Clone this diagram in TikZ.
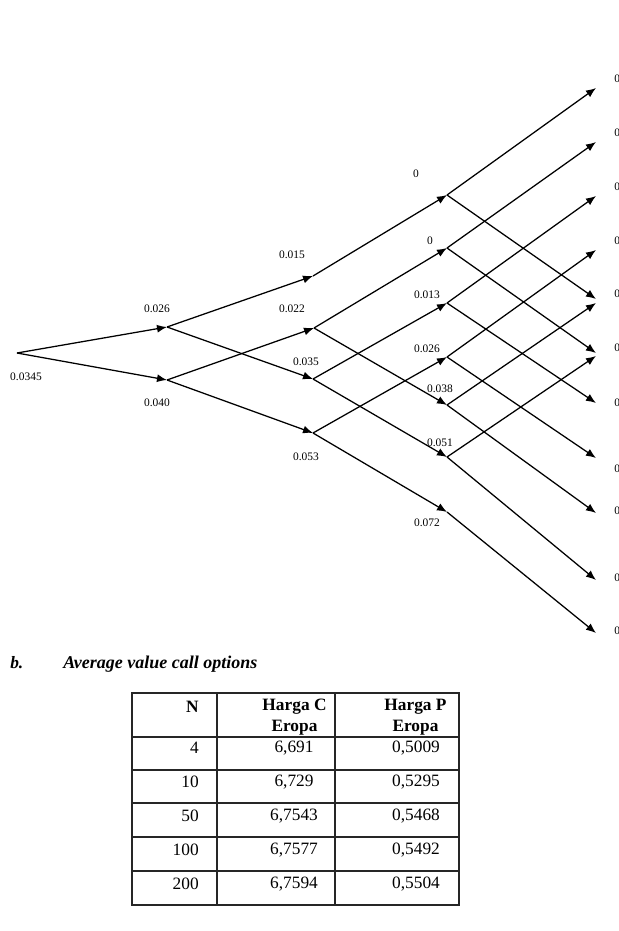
\documentclass[tikz,border=0pt]{standalone}
\usepackage{fontspec}
\setmainfont{Liberation Serif}
\usetikzlibrary{arrows.meta}
\tikzset{>={Latex[length=7.5pt,width=6pt]}}
\tikzset{
  branch/.style={->,line width=0.95pt},
  rate/.style={inner sep=0,font=\fontsize{8.6}{10}\selectfont},
  cell/.style={inner sep=0,font=\fontsize{13}{15.5}\selectfont},
  rule/.style={line width=1.5pt,black!85},
}

\begin{document}
\begin{tikzpicture}[x=0.75pt,y=-0.75pt]
  \useasboundingbox (0,0) rectangle (618,931);
  % lattice points
  \coordinate (n0)  at (17,353);
  \coordinate (n1u) at (167,327);
  \coordinate (n1d) at (167,380);
  \coordinate (n2a) at (313,276);
  \coordinate (n2b) at (314,328);
  \coordinate (n2c) at (313,379);
  \coordinate (n2d) at (313,433);
  \coordinate (n3a) at (447,195);
  \coordinate (n3b) at (447,248);
  \coordinate (n3c) at (447,303);
  \coordinate (n3d) at (447,357);
  \coordinate (n3e) at (447,405);
  \coordinate (n3f) at (447,457);
  \coordinate (n3g) at (447,512);
  % free ends of the last step
  \coordinate (e1)  at (596,88);
  \coordinate (e2)  at (596,142);
  \coordinate (e3)  at (596,196);
  \coordinate (e4)  at (596,250);
  \coordinate (e5)  at (596,299);
  \coordinate (e6)  at (596,303);
  \coordinate (e7)  at (596,353);
  \coordinate (e8)  at (596,356);
  \coordinate (e9)  at (596,403);
  \coordinate (e10) at (596,458);
  \coordinate (e11) at (596,513);
  \coordinate (e12) at (596,580);
  \coordinate (e13) at (596,633);

  \draw[branch] (n0) -- (n1u);
  \draw[branch] (n0) -- (n1d);
  \draw[branch] (n1u) -- (n2a);
  \draw[branch] (n1u) -- (n2c);
  \draw[branch] (n1d) -- (n2b);
  \draw[branch] (n1d) -- (n2d);
  \draw[branch] (n2a) -- (n3a);
  \draw[branch] (n2b) -- (n3b);
  \draw[branch] (n2b) -- (n3e);
  \draw[branch] (n2c) -- (n3c);
  \draw[branch] (n2c) -- (n3f);
  \draw[branch] (n2d) -- (n3d);
  \draw[branch] (n2d) -- (n3g);
  \draw[branch] (n3a) -- (e1);
  \draw[branch] (n3a) -- (e5);
  \draw[branch] (n3b) -- (e2);
  \draw[branch] (n3b) -- (e7);
  \draw[branch] (n3c) -- (e3);
  \draw[branch] (n3c) -- (e9);
  \draw[branch] (n3d) -- (e4);
  \draw[branch] (n3d) -- (e10);
  \draw[branch] (n3e) -- (e6);
  \draw[branch] (n3e) -- (e11);
  \draw[branch] (n3f) -- (e8);
  \draw[branch] (n3f) -- (e12);
  \draw[branch] (n3g) -- (e13);

  % short rates
  \node[rate] (r0)  at (26,377)  {0.0345};
  \node[rate] (r1u) at (157,309) {0.026};
  \node[rate] (r1d) at (157,403) {0.040};
  \node[rate] (r2a) at (292,255) {0.015};
  \node[rate] (r2b) at (292,309) {0.022};
  \node[rate] (r2c) at (306,362) {0.035};
  \node[rate] (r2d) at (306,457) {0.053};
  \node[rate] (r3a) at (416,174) {0};
  \node[rate] (r3b) at (430,241) {0};
  \node[rate] (r3c) at (427,295) {0.013};
  \node[rate] (r3d) at (427,349) {0.026};
  \node[rate] (r3e) at (440,389) {0.038};
  \node[rate] (r3f) at (440,443) {0.051};
  \node[rate] (r3g) at (427,523) {0.072};
  \foreach \y [count=\i] in {79,133,187,241,294,348,403,469,511,578,631}
    \node[rate,anchor=west] (r4\i) at (614,\y) {0};

  % table
  \node[cell,anchor=base west] (tb) at (10,668) {\bfseries\itshape b.};
  \node[cell,anchor=base west,font=\fontsize{13.5}{16}\selectfont] (tt) at (63,668)
    {\bfseries\itshape Average value call options};
  \draw[rule] (132,693) rectangle (459,905);
  \draw[rule] (217,693) -- (217,905);
  \draw[rule] (335,693) -- (335,905);
  \foreach \y in {737,770,803,837,871}
    \draw[rule] (132,\y) -- (459,\y);
  \node[cell,anchor=east] (hN) at (199,707) {\bfseries N};
  \node[cell,align=center] (hC) at (294.5,717) {\bfseries Harga C\\\bfseries Eropa};
  \node[cell,align=center] (hP) at (415.5,717) {\bfseries Harga P\\\bfseries Eropa};
  \foreach \n/\c/\p [count=\i] in {4/{6,691}/{0,5009},10/{6,729}/{0,5295},
      50/{6,7543}/{0,5468},100/{6,7577}/{0,5492},200/{6,7594}/{0,5504}} {
    \pgfmathsetmacro{\ry}{748+34*(\i-1)}
    \node[cell,anchor=east] (N\i) at (199,\ry) {\n};
    \node[cell] (C\i) at (294,\ry) {\c};
    \node[cell] (P\i) at (416,\ry) {\p};
  }
\end{tikzpicture}
\end{document}
